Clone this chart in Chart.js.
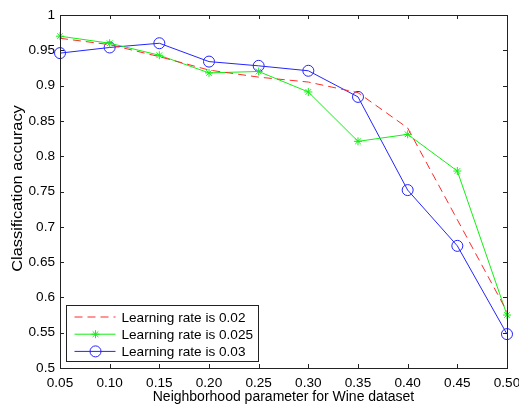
<!DOCTYPE html>
<html>
<head>
<meta charset="utf-8">
<script src="https://cdn.jsdelivr.net/npm/chart.js@4"></script>
<style>
  html, body { margin: 0; padding: 0; background: #fff; }
  #wrap { width: 519px; height: 404px; }
</style>
</head>
<body>
<div id="wrap"><canvas id="c"></canvas></div>
<script>
const xValues = [0.05, 0.10, 0.15, 0.20, 0.25, 0.30, 0.35, 0.40, 0.45, 0.50];
const rate002 = [0.967, 0.958, 0.941, 0.922, 0.912, 0.905, 0.890, 0.840, 0.710, 0.580];
const rate0025 = [0.970, 0.960, 0.943, 0.918, 0.920, 0.891, 0.821, 0.831, 0.779, 0.575];
const rate003 = [0.946, 0.954, 0.960, 0.934, 0.928, 0.921, 0.884, 0.752, 0.673, 0.548];
const seriesNames = ['Learning rate is 0.02', 'Learning rate is 0.025', 'Learning rate is 0.03'];
const xTitle = 'Neighborhood parameter for Wine dataset';
const yTitle = 'Classification accuracy';

const FONT = 'Liberation Sans, Arial, Helvetica, sans-serif';
const AXIS = '#222';

const pts = ys => xValues.map((x, i) => ({ x, y: ys[i] }));

// MATLAB-like box with inward ticks on all sides, legend and y title
const boxPlugin = {
  id: 'box',
  afterDatasetsDraw(chart) {
    const { ctx, chartArea: a, scales } = chart;
    ctx.save();
    ctx.strokeStyle = AXIS;
    ctx.lineWidth = 1;
    ctx.strokeRect(Math.round(a.left) + 0.5, Math.round(a.top) + 0.5,
      Math.round(a.right - a.left), Math.round(a.bottom - a.top));
    const tl = 4;
    ctx.beginPath();
    scales.x.ticks.forEach(t => {
      const px = Math.round(scales.x.getPixelForValue(t.value)) + 0.5;
      ctx.moveTo(px, a.bottom); ctx.lineTo(px, a.bottom - tl);
      ctx.moveTo(px, a.top); ctx.lineTo(px, a.top + tl);
    });
    scales.y.ticks.forEach(t => {
      const py = Math.round(scales.y.getPixelForValue(t.value)) + 0.5;
      ctx.moveTo(a.left, py); ctx.lineTo(a.left + tl, py);
      ctx.moveTo(a.right, py); ctx.lineTo(a.right - tl, py);
    });
    ctx.stroke();
    ctx.restore();
  },
  afterDraw(chart) {
    const { ctx, chartArea: a } = chart;
    ctx.save();
    // y title, a bit stretched along its length like the reference
    ctx.translate(22, (a.top + a.bottom) / 2 - 3);
    ctx.rotate(-Math.PI / 2);
    ctx.scale(1.17, 1);
    ctx.font = '14px ' + FONT;
    ctx.fillStyle = '#000';
    ctx.textAlign = 'center';
    ctx.textBaseline = 'alphabetic';
    ctx.fillText(yTitle, 0, 0);
    ctx.restore();

    // legend box in the lower left corner
    const bx = 66.5, by = 305.5, bw = 192, bh = 56;
    ctx.save();
    ctx.fillStyle = '#fff';
    ctx.fillRect(bx, by, bw, bh);
    ctx.strokeStyle = AXIS;
    ctx.lineWidth = 1;
    ctx.strokeRect(bx, by, bw, bh);
    ctx.font = '13.6px ' + FONT;
    ctx.textBaseline = 'middle';
    chart.data.datasets.forEach((ds, i) => {
      const y = by + 11.5 + i * 17.2;
      ctx.strokeStyle = ds.borderColor;
      ctx.lineWidth = 1;
      ctx.setLineDash(ds.borderDash || []);
      ctx.beginPath();
      ctx.moveTo(bx + 8, y); ctx.lineTo(bx + 49, y);
      ctx.stroke();
      ctx.setLineDash([]);
      if (ds.pointStyle && ds.pointRadius > 0) {
        ctx.fillStyle = 'rgba(0,0,0,0)';
        Chart.helpers.drawPoint(ctx, {
          pointStyle: ds.pointStyle, radius: ds.pointRadius, borderWidth: 1, rotation: 0
        }, bx + 29, y);
      }
      ctx.fillStyle = '#000';
      ctx.fillText(ds.label, bx + 55, y + 1);
    });
    ctx.restore();
  }
};

new Chart(document.getElementById('c'), {
  type: 'line',
  data: {
    datasets: [
      {
        label: seriesNames[0], data: pts(rate002),
        borderColor: '#ff2a2a', borderWidth: 1, borderDash: [8, 5],
        pointRadius: 0, pointStyle: false, fill: false, clip: false
      },
      {
        label: seriesNames[1], data: pts(rate0025),
        borderColor: '#11f011', borderWidth: 1,
        pointStyle: 'star', pointRadius: 4, pointBorderColor: '#11f011',
        pointBackgroundColor: 'transparent', pointBorderWidth: 1, fill: false, clip: false
      },
      {
        label: seriesNames[2], data: pts(rate003),
        borderColor: '#2424ff', borderWidth: 1,
        pointStyle: 'circle', pointRadius: 5.5, pointBorderColor: '#2424ff',
        pointBackgroundColor: 'transparent', pointBorderWidth: 1, fill: false, clip: false
      }
    ]
  },
  options: {
    responsive: true,
    maintainAspectRatio: false,
    animation: false,
    layout: { padding: { left: 0, right: 12, top: 15, bottom: 0 } },
    plugins: { legend: { display: false }, tooltip: { enabled: false } },
    scales: {
      x: {
        type: 'linear', min: 0.05, max: 0.5,
        grid: { display: false, drawTicks: false },
        border: { display: false },
        ticks: {
          stepSize: 0.05, padding: 7, color: '#000', maxRotation: 0,
          font: { family: FONT, size: 13.6 },
          callback: v => v.toFixed(2)
        },
        title: { display: true, text: xTitle, color: '#000', padding: { top: 0, bottom: -2 },
          font: { family: FONT, size: 14 } },
        afterFit: s => { s.height = 36; s.paddingLeft = 0; s.paddingRight = 0; }
      },
      y: {
        min: 0.5, max: 1,
        grid: { display: false, drawTicks: false },
        border: { display: false },
        ticks: {
          stepSize: 0.05, padding: 5, color: '#000',
          font: { family: FONT, size: 13.6 },
          callback: v => String(+v.toFixed(2))
        },
        title: { display: false },
        afterFit: s => { s.width = 60; }
      }
    }
  },
  plugins: [boxPlugin]
});
</script>
</body>
</html>
